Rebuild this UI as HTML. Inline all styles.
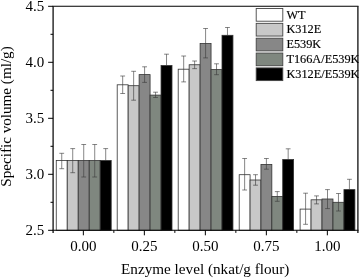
<!DOCTYPE html>
<html><head><meta charset="utf-8"><title>chart</title>
<style>
html,body{margin:0;padding:0;background:#fff;}
body{width:359px;height:280px;overflow:hidden;}
svg{display:block;}
text{font-family:"Liberation Serif","DejaVu Serif",serif;fill:#000;}
.lg text{stroke:#000;stroke-width:0.15px;}
</style></head><body>
<svg width="359" height="280" viewBox="0 0 359 280">
<rect x="0" y="0" width="359" height="280" fill="#fff"/>
<rect x="56.25" y="160.50" width="10.99" height="69.80" fill="#ffffff" stroke="#333" stroke-width="0.8"/>
<rect x="67.24" y="160.50" width="10.99" height="69.80" fill="#c8c8c8" stroke="#333" stroke-width="0.8"/>
<rect x="78.23" y="160.50" width="10.99" height="69.80" fill="#878787" stroke="#333" stroke-width="0.8"/>
<rect x="89.22" y="160.50" width="10.99" height="69.80" fill="#7f877f" stroke="#333" stroke-width="0.8"/>
<rect x="100.21" y="160.50" width="10.99" height="69.80" fill="#000000" stroke="#333" stroke-width="0.8"/>
<path d="M61.74 153.30V168.70M59.34 153.30H64.14M59.34 168.70H64.14" stroke="#3a3a3a" stroke-width="0.62" fill="none"/>
<path d="M72.73 148.60V172.70M70.33 148.60H75.14M70.33 172.70H75.14" stroke="#3a3a3a" stroke-width="0.62" fill="none"/>
<path d="M83.72 144.50V177.00M81.32 144.50H86.12M81.32 177.00H86.12" stroke="#3a3a3a" stroke-width="0.62" fill="none"/>
<path d="M94.72 144.50V177.00M92.31 144.50H97.12M92.31 177.00H97.12" stroke="#3a3a3a" stroke-width="0.62" fill="none"/>
<path d="M105.70 148.60V160.50M103.30 148.60H108.11" stroke="#3a3a3a" stroke-width="0.62" fill="none"/>
<rect x="117.20" y="84.80" width="10.96" height="145.50" fill="#ffffff" stroke="#333" stroke-width="0.8"/>
<rect x="128.16" y="85.70" width="10.96" height="144.60" fill="#c8c8c8" stroke="#333" stroke-width="0.8"/>
<rect x="139.12" y="74.60" width="10.96" height="155.70" fill="#878787" stroke="#333" stroke-width="0.8"/>
<rect x="150.08" y="95.10" width="10.96" height="135.20" fill="#7f877f" stroke="#333" stroke-width="0.8"/>
<rect x="161.04" y="65.50" width="10.96" height="164.80" fill="#000000" stroke="#333" stroke-width="0.8"/>
<path d="M122.68 76.00V93.50M120.28 76.00H125.08M120.28 93.50H125.08" stroke="#3a3a3a" stroke-width="0.62" fill="none"/>
<path d="M133.64 71.30V100.20M131.24 71.30H136.04M131.24 100.20H136.04" stroke="#3a3a3a" stroke-width="0.62" fill="none"/>
<path d="M144.60 66.80V82.40M142.20 66.80H147.00M142.20 82.40H147.00" stroke="#3a3a3a" stroke-width="0.62" fill="none"/>
<path d="M155.56 92.20V97.50M153.16 92.20H157.96M153.16 97.50H157.96" stroke="#3a3a3a" stroke-width="0.62" fill="none"/>
<path d="M166.52 54.20V65.50M164.12 54.20H168.92" stroke="#3a3a3a" stroke-width="0.62" fill="none"/>
<rect x="178.20" y="69.20" width="10.95" height="161.10" fill="#ffffff" stroke="#333" stroke-width="0.8"/>
<rect x="189.15" y="64.75" width="10.95" height="165.55" fill="#c8c8c8" stroke="#333" stroke-width="0.8"/>
<rect x="200.10" y="43.50" width="10.95" height="186.80" fill="#878787" stroke="#333" stroke-width="0.8"/>
<rect x="211.05" y="69.60" width="10.95" height="160.70" fill="#7f877f" stroke="#333" stroke-width="0.8"/>
<rect x="222.00" y="35.30" width="10.95" height="195.00" fill="#000000" stroke="#333" stroke-width="0.8"/>
<path d="M183.68 56.00V81.90M181.28 56.00H186.08M181.28 81.90H186.08" stroke="#3a3a3a" stroke-width="0.62" fill="none"/>
<path d="M194.62 61.00V68.65M192.22 61.00H197.03M192.22 68.65H197.03" stroke="#3a3a3a" stroke-width="0.62" fill="none"/>
<path d="M205.58 28.50V57.90M203.18 28.50H207.98M203.18 57.90H207.98" stroke="#3a3a3a" stroke-width="0.62" fill="none"/>
<path d="M216.53 63.80V74.70M214.12 63.80H218.93M214.12 74.70H218.93" stroke="#3a3a3a" stroke-width="0.62" fill="none"/>
<path d="M227.47 27.50V35.30M225.07 27.50H229.88" stroke="#3a3a3a" stroke-width="0.62" fill="none"/>
<rect x="239.20" y="174.70" width="10.88" height="55.60" fill="#ffffff" stroke="#333" stroke-width="0.8"/>
<rect x="250.08" y="180.00" width="10.88" height="50.30" fill="#c8c8c8" stroke="#333" stroke-width="0.8"/>
<rect x="260.96" y="164.40" width="10.88" height="65.90" fill="#878787" stroke="#333" stroke-width="0.8"/>
<rect x="271.84" y="196.50" width="10.88" height="33.80" fill="#7f877f" stroke="#333" stroke-width="0.8"/>
<rect x="282.72" y="159.50" width="10.88" height="70.80" fill="#000000" stroke="#333" stroke-width="0.8"/>
<path d="M244.64 158.50V190.00M242.24 158.50H247.04M242.24 190.00H247.04" stroke="#3a3a3a" stroke-width="0.62" fill="none"/>
<path d="M255.52 174.70V185.20M253.12 174.70H257.92M253.12 185.20H257.92" stroke="#3a3a3a" stroke-width="0.62" fill="none"/>
<path d="M266.40 158.50V169.20M264.00 158.50H268.80M264.00 169.20H268.80" stroke="#3a3a3a" stroke-width="0.62" fill="none"/>
<path d="M277.28 191.60V201.30M274.88 191.60H279.68M274.88 201.30H279.68" stroke="#3a3a3a" stroke-width="0.62" fill="none"/>
<path d="M288.16 148.80V159.50M285.76 148.80H290.56" stroke="#3a3a3a" stroke-width="0.62" fill="none"/>
<rect x="300.10" y="209.10" width="10.96" height="21.20" fill="#ffffff" stroke="#333" stroke-width="0.8"/>
<rect x="311.06" y="199.80" width="10.96" height="30.50" fill="#c8c8c8" stroke="#333" stroke-width="0.8"/>
<rect x="322.02" y="199.00" width="10.96" height="31.30" fill="#878787" stroke="#333" stroke-width="0.8"/>
<rect x="332.98" y="202.30" width="10.96" height="28.00" fill="#7f877f" stroke="#333" stroke-width="0.8"/>
<rect x="343.94" y="189.60" width="10.96" height="40.70" fill="#000000" stroke="#333" stroke-width="0.8"/>
<path d="M305.58 193.20V224.30M303.18 193.20H307.98M303.18 224.30H307.98" stroke="#3a3a3a" stroke-width="0.62" fill="none"/>
<path d="M316.54 195.90V203.90M314.14 195.90H318.94M314.14 203.90H318.94" stroke="#3a3a3a" stroke-width="0.62" fill="none"/>
<path d="M327.50 189.60V208.60M325.10 189.60H329.90M325.10 208.60H329.90" stroke="#3a3a3a" stroke-width="0.62" fill="none"/>
<path d="M338.46 193.50V211.00M336.06 193.50H340.86M336.06 211.00H340.86" stroke="#3a3a3a" stroke-width="0.62" fill="none"/>
<path d="M349.42 179.30V189.60M347.02 179.30H351.82" stroke="#3a3a3a" stroke-width="0.62" fill="none"/>
<path d="M52.5 6.3H358.5M52.5 230.3H358.5" fill="none" stroke="#000" stroke-width="1.1"/>
<path d="M53.1 6.3V232.9M357.9 6.3V232.9" fill="none" stroke="#111" stroke-width="1.3"/>
<path d="M53.1 230.30H48.1" stroke="#000" stroke-width="1"/>
<text x="44.3" y="235.10" font-size="15" text-anchor="end">2.5</text>
<path d="M53.1 202.30H50.5" stroke="#000" stroke-width="1"/>
<path d="M53.1 174.30H48.1" stroke="#000" stroke-width="1"/>
<text x="44.3" y="179.10" font-size="15" text-anchor="end">3.0</text>
<path d="M53.1 146.30H50.5" stroke="#000" stroke-width="1"/>
<path d="M53.1 118.30H48.1" stroke="#000" stroke-width="1"/>
<text x="44.3" y="123.10" font-size="15" text-anchor="end">3.5</text>
<path d="M53.1 90.30H50.5" stroke="#000" stroke-width="1"/>
<path d="M53.1 62.30H48.1" stroke="#000" stroke-width="1"/>
<text x="44.3" y="67.10" font-size="15" text-anchor="end">4.0</text>
<path d="M53.1 34.30H50.5" stroke="#000" stroke-width="1"/>
<path d="M53.1 6.30H48.1" stroke="#000" stroke-width="1"/>
<text x="44.3" y="11.10" font-size="15" text-anchor="end">4.5</text>
<path d="M83.35 230.3V235.3" stroke="#000" stroke-width="1"/>
<text x="83.35" y="251" font-size="15" text-anchor="middle">0.00</text>
<path d="M113.85 230.3V232.9" stroke="#000" stroke-width="1"/>
<path d="M144.35 230.3V235.3" stroke="#000" stroke-width="1"/>
<text x="144.35" y="251" font-size="15" text-anchor="middle">0.25</text>
<path d="M174.85 230.3V232.9" stroke="#000" stroke-width="1"/>
<path d="M205.35 230.3V235.3" stroke="#000" stroke-width="1"/>
<text x="205.35" y="251" font-size="15" text-anchor="middle">0.50</text>
<path d="M235.85 230.3V232.9" stroke="#000" stroke-width="1"/>
<path d="M266.35 230.3V235.3" stroke="#000" stroke-width="1"/>
<text x="266.35" y="251" font-size="15" text-anchor="middle">0.75</text>
<path d="M296.85 230.3V232.9" stroke="#000" stroke-width="1"/>
<path d="M327.35 230.3V235.3" stroke="#000" stroke-width="1"/>
<text x="327.35" y="251" font-size="15" text-anchor="middle">1.00</text>
<text x="205.2" y="274.2" font-size="15.2" text-anchor="middle">Enzyme level (nkat/g flour)</text>
<text transform="translate(11.2,116.5) rotate(-90)" font-size="15.15" text-anchor="middle">Specific volume (ml/g)</text>
<g class="lg">
<rect x="256.2" y="8.50" width="26.6" height="12.7" fill="#ffffff" stroke="#444" stroke-width="0.9"/>
<text x="286.4" y="18.50" font-size="12.3">WT</text>
<rect x="256.2" y="23.35" width="26.6" height="12.7" fill="#c8c8c8" stroke="#444" stroke-width="0.9"/>
<text x="286.4" y="33.25" font-size="12.3">K312E</text>
<rect x="256.2" y="38.20" width="26.6" height="12.7" fill="#878787" stroke="#444" stroke-width="0.9"/>
<text x="286.4" y="48.00" font-size="12.3">E539K</text>
<rect x="256.2" y="53.05" width="26.6" height="12.7" fill="#7f877f" stroke="#444" stroke-width="0.9"/>
<text x="286.4" y="62.75" font-size="12.3">T166A/E539K</text>
<rect x="256.2" y="67.90" width="26.6" height="12.7" fill="#000000" stroke="#444" stroke-width="0.9"/>
<text x="286.4" y="77.50" font-size="12.3">K312E/E539K</text>
</g>
</svg></body></html>
